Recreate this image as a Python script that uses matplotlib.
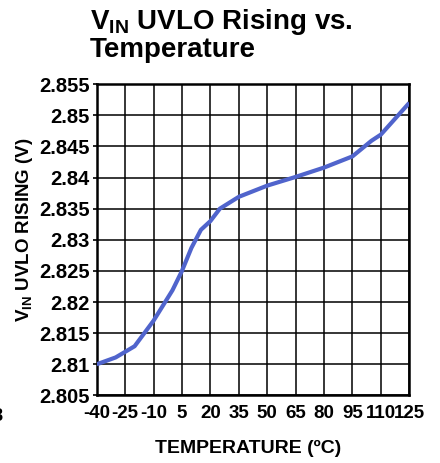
import numpy as np
import matplotlib
matplotlib.use("Agg")
import matplotlib.pyplot as plt

plt.rcParams['font.family'] = ['Liberation Sans', 'DejaVu Sans']
plt.rcParams['mathtext.fontset'] = 'custom'
plt.rcParams['mathtext.rm'] = 'Liberation Sans:bold'
plt.rcParams['mathtext.bf'] = 'Liberation Sans:bold'

# data
temp_c = [-40, -30, -20, -10, 0, 5, 10, 15, 20, 25, 35, 50, 65, 80, 95, 105, 110, 125]
uvlo_v = [2.8100, 2.8111, 2.8129, 2.8170, 2.8219, 2.8250, 2.8287, 2.8316, 2.8330,
          2.8350, 2.8369, 2.8387, 2.8401, 2.8416, 2.8434, 2.8459, 2.8469, 2.8520]

xticks = [-40, -25, -10, 5, 20, 35, 50, 65, 80, 95, 110, 125]
yticks = [2.805, 2.81, 2.815, 2.82, 2.825, 2.83, 2.835, 2.84, 2.845, 2.85, 2.855]
ytick_labels = ['2.805', '2.81', '2.815', '2.82', '2.825', '2.83', '2.835', '2.84', '2.845', '2.85', '2.855']

fig = plt.figure(figsize=(4.4, 4.63), dpi=100)
ax = fig.add_axes([0.2198, 0.1460, 0.7104, 0.6722])

ax.plot(temp_c, uvlo_v, color='#5064cc', lw=3.0, solid_capstyle='butt', zorder=3)

ax.set_xlim(-40, 125)
ax.set_ylim(2.805, 2.855)
ax.set_xticks(xticks)
ax.set_xticklabels([str(t) for t in xticks])
ax.set_yticks(yticks)
ax.set_yticklabels(ytick_labels)
ax.grid(True, color='black', lw=1.1)
for s in ax.spines.values():
    s.set_linewidth(1.8)
ax.tick_params(axis='x', length=0, pad=7)
ax.tick_params(axis='y', length=3, width=1.2, pad=2)
for lab in ax.get_xticklabels():
    lab.set_fontsize(13.5)
    lab.set_fontweight('bold')
for lab in ax.get_yticklabels():
    lab.set_fontsize(14.5)
    lab.set_fontweight('bold')

ax.set_xlabel('TEMPERATURE (ºC)', fontsize=14, fontweight='bold')
ax.xaxis.set_label_coords(0.484, -0.143)
ax.set_ylabel(r'V$_{\mathrm{IN}}$ UVLO RISING (V)', fontsize=13.5, fontweight='bold')
ax.yaxis.set_label_coords(-0.197, 0.532)

fig.text(0.205, 0.985, r'V$_{\mathbf{IN}}$ UVLO Rising vs.' + '\nTemperature',
         fontsize=20, fontweight='bold', ha='left', va='top', linespacing=1.0)

# clipped glyph at left edge
fig.text(0.0045, 0.1015, '8', fontsize=13, fontweight='bold', ha='right', va='center')

fig.savefig('out.png', dpi=100)
